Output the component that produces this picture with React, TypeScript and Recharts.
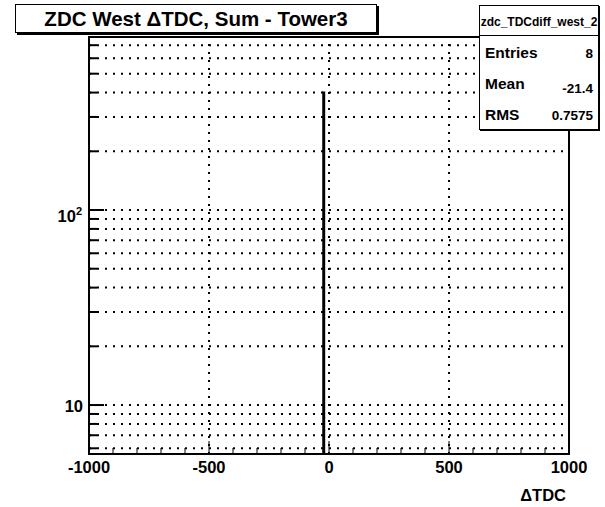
import React from 'react';
import { ComposedChart, Line, XAxis, YAxis, CartesianGrid, ReferenceLine, ReferenceArea } from 'recharts';

// histogram bins (edges + contents)
const binEdges = [-1000, -24, -20, 1000];
const binCounts = [0, 400, 0];

const xTicks = [-1000, -900, -800, -700, -600, -500, -400, -300, -200, -100, 0, 100, 200, 300, 400, 500, 600, 700, 800, 900, 1000];
const xLabels = [-1000, -500, 0, 500, 1000];
const xGrid = [-500, 0, 500];
const yTicks = [6, 7, 8, 9, 10, 20, 30, 40, 50, 60, 70, 80, 90, 100, 200, 300, 400, 500, 600, 700];
const yMajor = [10, 100];

const statsLabels = ['Entries', 'Mean', 'RMS'];
const statsValues = ['8', '-21.4', '0.7575'];

const Y_MIN = 5.61;
const Y_MAX = 771;
const font = '"Liberation Sans", Arial, Helvetica, sans-serif';

// empty bins sit on the bottom of the frame, like ROOT draws them on log scale
const histData = binEdges.map((edge, i) => ({
  x: edge,
  y: i < binCounts.length && binCounts[i] > 0 ? binCounts[i] : Y_MIN,
}));

const XTick = (props: any) => {
  const { x, y, payload } = props;
  const major = xLabels.includes(payload.value);
  return (
    <g>
      <line x1={x} y1={y} x2={x} y2={y - (major ? 13 : 6)} stroke="#000" strokeWidth={1} />
      {major && (
        <text x={x} y={y + 19} textAnchor="middle" fontFamily={font} fontWeight="bold" fontSize={16.5} fill="#000">
          {payload.value}
        </text>
      )}
    </g>
  );
};

const YTick = (props: any) => {
  const { x, y, payload } = props;
  const major = yMajor.includes(payload.value);
  return (
    <g>
      <line x1={x} y1={y} x2={x + (major ? 15 : 8)} y2={y} stroke="#000" strokeWidth={2} />
      {payload.value === 10 && (
        <text x={x - 6} y={y + 7} textAnchor="end" fontFamily={font} fontWeight="bold" fontSize={16.5} fill="#000">
          10
        </text>
      )}
      {payload.value === 100 && (
        <text x={x - 7} y={y + 12} textAnchor="end" fontFamily={font} fontWeight="bold" fontSize={16.5} fill="#000">
          10<tspan dy={-7} fontSize={11}>2</tspan>
        </text>
      )}
    </g>
  );
};

const App: React.FC = () => {
  return (
    <div style={{ position: 'absolute', left: 0, top: 0, width: 605, height: 507, background: '#fff', fontFamily: font }}>
      <ComposedChart width={605} height={507} data={histData} margin={{ top: 37, right: 36, bottom: 23, left: 29 }}>
        <CartesianGrid vertical={false} stroke="#000" strokeWidth={2} strokeDasharray="2 6" />
        {xGrid.map(v => (
          <ReferenceLine key={v} x={v} stroke="#000" strokeWidth={2} strokeDasharray="2 6" />
        ))}
        <XAxis
          dataKey="x"
          type="number"
          domain={[-1000, 1000]}
          ticks={xTicks}
          interval={0}
          tickSize={0}
          tickMargin={0}
          height={30}
          axisLine={{ stroke: '#000', strokeWidth: 2 }}
          tick={<XTick />}
          allowDataOverflow
        />
        <YAxis
          type="number"
          scale="log"
          domain={[Y_MIN, Y_MAX]}
          ticks={yTicks}
          interval={0}
          tickSize={0}
          tickMargin={0}
          width={60}
          axisLine={{ stroke: '#000', strokeWidth: 2 }}
          tick={<YTick />}
          allowDataOverflow
        />
        <Line
          type="stepAfter"
          dataKey="y"
          stroke="#000"
          strokeWidth={2}
          dot={false}
          isAnimationActive={false}
        />
        <ReferenceArea x1={-1000} x2={1000} y1={Y_MIN} y2={Y_MAX} fill="none" stroke="#000" strokeWidth={2} />
        <text x={566} y={501} textAnchor="end" fontFamily={font} fontWeight="bold" fontSize={16.5} fill="#000">
          ΔTDC
        </text>
      </ComposedChart>

      {/* title box */}
      <div
        style={{
          position: 'absolute', left: 15, top: 4, width: 360, height: 27,
          border: '1px solid #000', boxShadow: '2px 2px 0 #000', background: '#fff',
          display: 'flex', alignItems: 'center', justifyContent: 'center',
          fontWeight: 'bold', fontSize: 20.5, color: '#000',
        }}
      >
        ZDC West ΔTDC, Sum - Tower3
      </div>

      {/* stats box */}
      <div
        style={{
          position: 'absolute', left: 479, top: 5, width: 118, height: 123,
          border: '1px solid #000', boxShadow: '1px 1px 0 #000', background: '#fff', color: '#000',
          fontWeight: 'bold', overflow: 'hidden',
        }}
      >
        <div style={{ height: 29, borderBottom: '1px solid #000', fontSize: 12, lineHeight: '32px', textAlign: 'center', whiteSpace: 'nowrap' }}>
          zdc_TDCdiff_west_2
        </div>
        {statsLabels.map((label, i) => (
          <div key={label} style={{ position: 'absolute', left: 5, right: 5, top: 38 + i * 31, height: 22, display: 'flex', justifyContent: 'space-between', alignItems: 'baseline' }}>
            <span style={{ fontSize: 15.5 }}>{label}</span>
            <span style={{ fontSize: 13.5, position: 'relative', top: i === 1 ? 4 : 0 }}>{statsValues[i]}</span>
          </div>
        ))}
      </div>
    </div>
  );
};

export default App;
